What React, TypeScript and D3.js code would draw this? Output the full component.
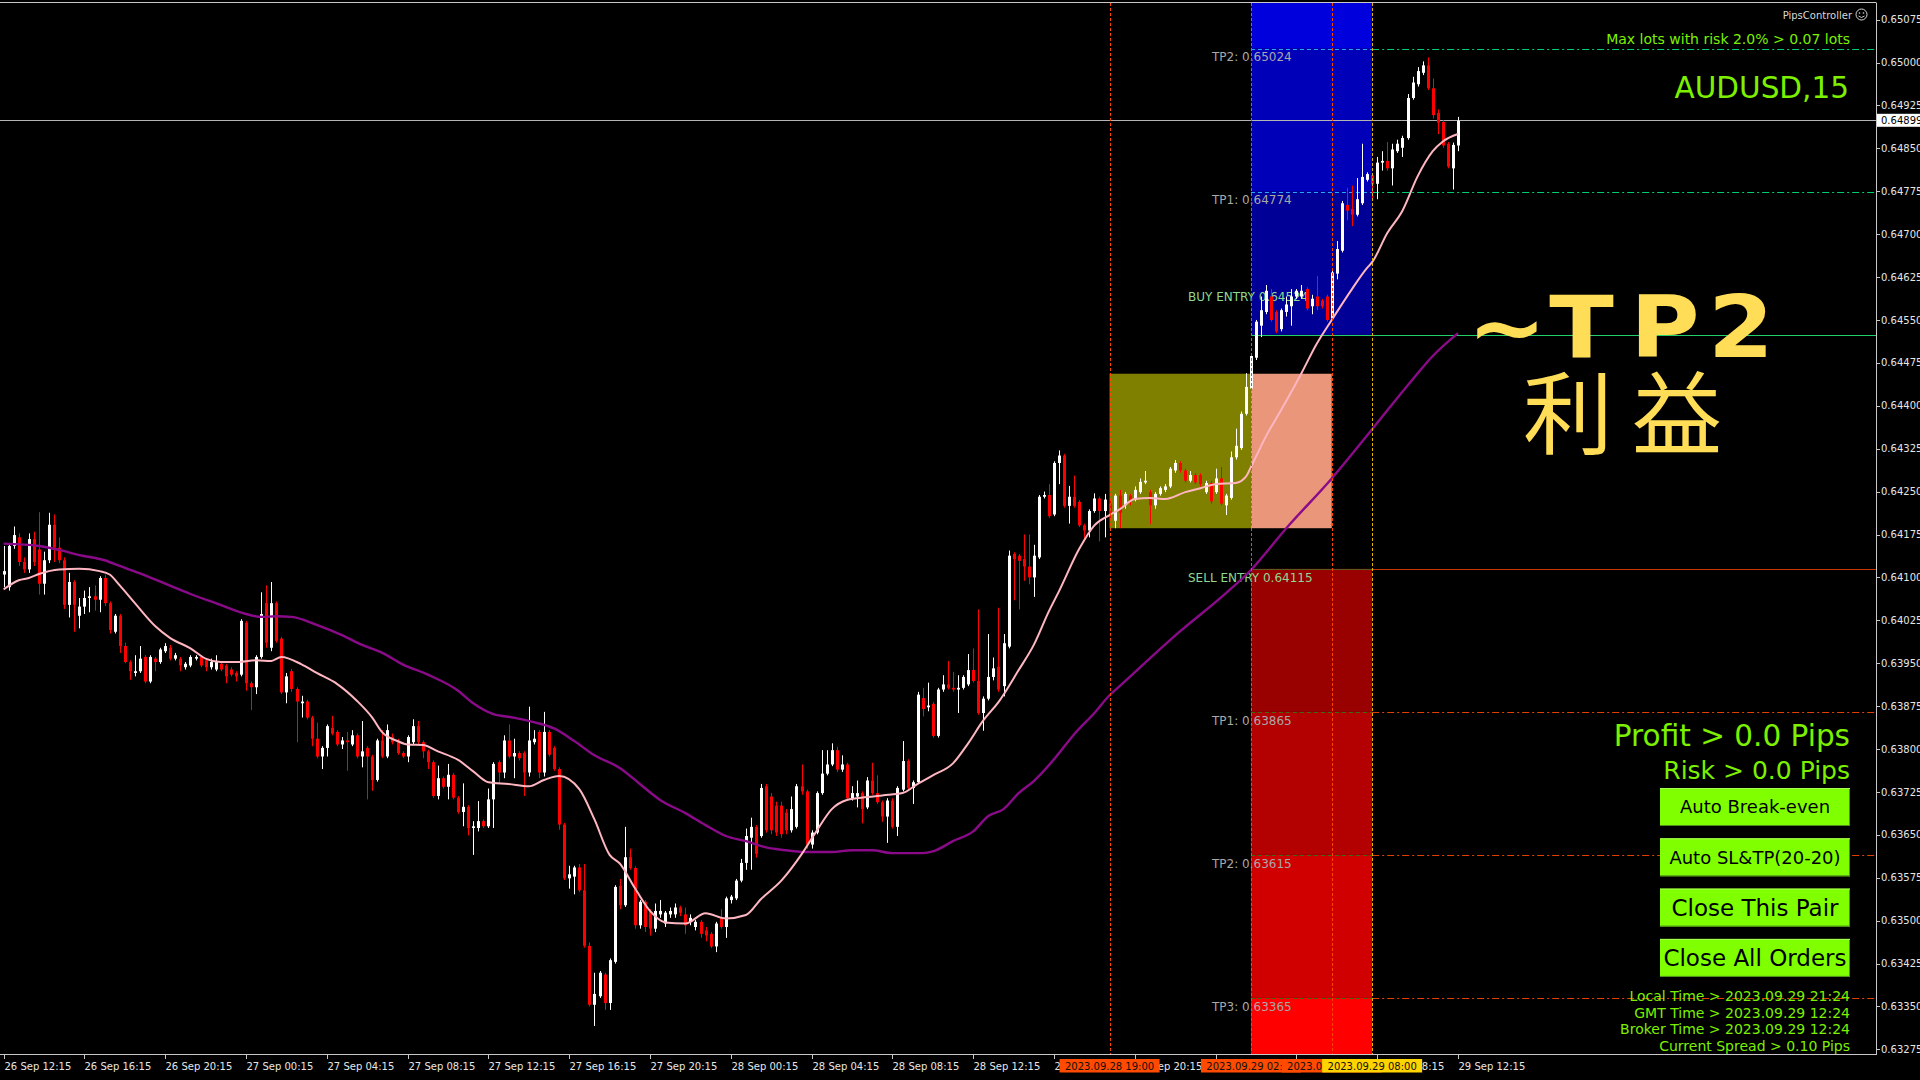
import React from "react";
import * as d3 from "d3";

// ---------- DATA ----------
// 15-minute AUDUSD candles, 26 Sep 12:15 -> 29 Sep 12:15, [open, high, low, close]
const candles: number[][] = [
[0.64105,0.64155,0.64083,0.64111],[0.64083,0.64160,0.64077,0.64155],[0.64155,0.64189,0.64150,0.64174],[0.64170,0.64177,0.64120,0.64127],
[0.64127,0.64135,0.64108,0.64114],[0.64114,0.64177,0.64108,0.64167],[0.64167,0.64180,0.64120,0.64127],[0.64149,0.64214,0.64070,0.64089],
[0.64089,0.64145,0.64070,0.64130],[0.64130,0.64213,0.64125,0.64192],[0.64192,0.64210,0.64127,0.64152],[0.64152,0.64170,0.64125,0.64130],
[0.64130,0.64135,0.64045,0.64052],[0.64052,0.64108,0.64030,0.64092],[0.64092,0.64095,0.64005,0.64052],[0.64033,0.64064,0.64011,0.64049],
[0.64049,0.64077,0.64036,0.64064],[0.64064,0.64083,0.64039,0.64067],[0.64067,0.64086,0.64042,0.64061],[0.64061,0.64102,0.64039,0.64099],
[0.64099,0.64105,0.64050,0.64055],[0.64055,0.64058,0.64002,0.64008],[0.64005,0.64036,0.64002,0.64033],[0.64033,0.64036,0.63968,0.63980],
[0.63980,0.63986,0.63950,0.63952],[0.63952,0.63955,0.63921,0.63936],[0.63933,0.63964,0.63927,0.63936],[0.63936,0.63980,0.63933,0.63958],
[0.63961,0.63964,0.63915,0.63918],[0.63918,0.63964,0.63915,0.63961],[0.63958,0.63961,0.63936,0.63952],[0.63952,0.63977,0.63949,0.63974],
[0.63971,0.63985,0.63968,0.63980],[0.63977,0.63982,0.63955,0.63958],[0.63958,0.63968,0.63955,0.63964],[0.63958,0.63961,0.63936,0.63946],
[0.63943,0.63952,0.63939,0.63949],[0.63946,0.63964,0.63943,0.63961],[0.63958,0.63964,0.63955,0.63961],[0.63961,0.63964,0.63943,0.63946],
[0.63955,0.63958,0.63936,0.63943],[0.63943,0.63958,0.63939,0.63952],[0.63939,0.63964,0.63936,0.63952],[0.63949,0.63952,0.63936,0.63939],
[0.63946,0.63949,0.63915,0.63927],[0.63939,0.63943,0.63927,0.63930],[0.63933,0.63936,0.63918,0.63927],[0.63930,0.64027,0.63927,0.64024],
[0.64021,0.64024,0.63902,0.63915],[0.63915,0.63918,0.63868,0.63908],[0.63908,0.63964,0.63896,0.63961],[0.63961,0.64074,0.63958,0.64036],
[0.64055,0.64086,0.63977,0.63986],[0.63977,0.64092,0.63971,0.64055],[0.64055,0.64058,0.63986,0.63989],[0.63993,0.63996,0.63896,0.63899],
[0.63899,0.63933,0.63880,0.63927],[0.63936,0.63940,0.63900,0.63905],[0.63905,0.63908,0.63812,0.63883],[0.63880,0.63893,0.63855,0.63883],
[0.63883,0.63886,0.63852,0.63855],[0.63855,0.63858,0.63805,0.63818],[0.63818,0.63846,0.63784,0.63787],[0.63787,0.63805,0.63765,0.63802],
[0.63802,0.63843,0.63787,0.63840],[0.63837,0.63858,0.63824,0.63827],[0.63830,0.63833,0.63805,0.63808],[0.63808,0.63821,0.63800,0.63815],
[0.63815,0.63830,0.63762,0.63812],[0.63808,0.63833,0.63805,0.63824],[0.63824,0.63827,0.63784,0.63787],[0.63787,0.63849,0.63768,0.63796],
[0.63802,0.63805,0.63712,0.63787],[0.63787,0.63790,0.63727,0.63746],[0.63746,0.63818,0.63743,0.63815],[0.63815,0.63833,0.63784,0.63787],
[0.63787,0.63843,0.63784,0.63833],[0.63821,0.63827,0.63808,0.63812],[0.63815,0.63818,0.63790,0.63793],[0.63793,0.63796,0.63784,0.63787],
[0.63787,0.63824,0.63777,0.63821],[0.63812,0.63852,0.63808,0.63840],[0.63840,0.63849,0.63808,0.63812],[0.63812,0.63815,0.63784,0.63796],
[0.63796,0.63799,0.63765,0.63777],[0.63777,0.63780,0.63715,0.63718],[0.63718,0.63771,0.63712,0.63749],[0.63749,0.63752,0.63731,0.63734],
[0.63734,0.63774,0.63712,0.63755],[0.63755,0.63758,0.63712,0.63715],[0.63715,0.63718,0.63687,0.63690],[0.63690,0.63740,0.63665,0.63699],
[0.63699,0.63702,0.63649,0.63662],[0.63662,0.63674,0.63615,0.63665],[0.63662,0.63709,0.63656,0.63674],[0.63674,0.63677,0.63662,0.63665],
[0.63665,0.63731,0.63662,0.63712],[0.63712,0.63777,0.63662,0.63774],[0.63777,0.63780,0.63740,0.63759],[0.63759,0.63824,0.63749,0.63815],
[0.63815,0.63843,0.63784,0.63787],[0.63787,0.63818,0.63749,0.63793],[0.63793,0.63796,0.63780,0.63784],[0.63793,0.63796,0.63718,0.63759],
[0.63759,0.63874,0.63752,0.63815],[0.63812,0.63833,0.63808,0.63818],[0.63830,0.63833,0.63749,0.63759],[0.63759,0.63865,0.63752,0.63830],
[0.63830,0.63833,0.63787,0.63790],[0.63802,0.63805,0.63762,0.63765],[0.63765,0.63768,0.63659,0.63668],[0.63668,0.63671,0.63571,0.63574],
[0.63574,0.63596,0.63556,0.63581],[0.63577,0.63596,0.63546,0.63593],[0.63593,0.63599,0.63550,0.63553],[0.63553,0.63599,0.63453,0.63456],
[0.63456,0.63462,0.63350,0.63353],[0.63353,0.63409,0.63316,0.63372],[0.63368,0.63412,0.63365,0.63409],[0.63406,0.63409,0.63344,0.63356],
[0.63356,0.63434,0.63344,0.63431],[0.63428,0.63562,0.63425,0.63559],
[0.63561,0.63573,0.63520,0.63527],[0.63527,0.63664,0.63524,0.63611],[0.63611,0.63626,0.63589,0.63592],[0.63592,0.63595,0.63486,0.63492],
[0.63492,0.63536,0.63486,0.63533],[0.63533,0.63536,0.63480,0.63489],[0.63517,0.63520,0.63474,0.63486],[0.63486,0.63530,0.63480,0.63517],
[0.63511,0.63536,0.63505,0.63517],[0.63495,0.63517,0.63489,0.63514],[0.63511,0.63523,0.63505,0.63517],[0.63511,0.63530,0.63505,0.63523],
[0.63523,0.63526,0.63508,0.63514],[0.63511,0.63523,0.63477,0.63492],[0.63498,0.63511,0.63492,0.63505],[0.63489,0.63501,0.63483,0.63498],
[0.63498,0.63501,0.63470,0.63477],[0.63483,0.63489,0.63464,0.63474],[0.63477,0.63480,0.63452,0.63455],[0.63455,0.63498,0.63445,0.63495],
[0.63505,0.63520,0.63486,0.63489],[0.63489,0.63542,0.63470,0.63539],[0.63536,0.63545,0.63530,0.63542],[0.63539,0.63573,0.63536,0.63570],
[0.63570,0.63608,0.63567,0.63601],[0.63601,0.63661,0.63589,0.63648],[0.63645,0.63680,0.63589,0.63664],[0.63664,0.63667,0.63610,0.63617],
[0.63648,0.63739,0.63645,0.63732],[0.63735,0.63739,0.63654,0.63658],[0.63717,0.63723,0.63651,0.63658],[0.63701,0.63708,0.63648,0.63654],
[0.63701,0.63708,0.63645,0.63651],[0.63689,0.63695,0.63651,0.63658],[0.63658,0.63717,0.63654,0.63695],[0.63664,0.63739,0.63661,0.63735],
[0.63735,0.63773,0.63720,0.63726],[0.63726,0.63729,0.63626,0.63633],[0.63633,0.63658,0.63626,0.63654],[0.63654,0.63726,0.63651,0.63723],
[0.63723,0.63798,0.63720,0.63757],[0.63757,0.63798,0.63754,0.63773],[0.63773,0.63810,0.63770,0.63798],[0.63798,0.63804,0.63760,0.63764],
[0.63764,0.63789,0.63760,0.63773],[0.63773,0.63776,0.63710,0.63714],[0.63714,0.63735,0.63710,0.63723],[0.63717,0.63745,0.63698,0.63723],
[0.63723,0.63726,0.63670,0.63695],[0.63698,0.63751,0.63695,0.63745],[0.63745,0.63776,0.63720,0.63723],[0.63723,0.63754,0.63704,0.63707],
[0.63707,0.63710,0.63673,0.63682],[0.63682,0.63714,0.63636,0.63710],[0.63710,0.63714,0.63661,0.63664],[0.63664,0.63735,0.63648,0.63732],
[0.63729,0.63814,0.63726,0.63779],[0.63779,0.63782,0.63729,0.63732],[0.63732,0.63745,0.63704,0.63742],[0.63742,0.63900,0.63739,0.63895],
[0.63889,0.63907,0.63857,0.63870],[0.63873,0.63916,0.63866,0.63876],[0.63879,0.63882,0.63820,0.63823],[0.63823,0.63907,0.63820,0.63904],
[0.63904,0.63929,0.63900,0.63913],[0.63913,0.63954,0.63904,0.63907],[0.63907,0.63935,0.63900,0.63904],[0.63904,0.63929,0.63863,0.63907],
[0.63907,0.63929,0.63904,0.63926],[0.63913,0.63966,0.63910,0.63938],[0.63938,0.63976,0.63916,0.63919],[0.63919,0.64044,0.63860,0.63863],
[0.63863,0.63892,0.63832,0.63888],[0.63888,0.64001,0.63885,0.63926],[0.63926,0.63960,0.63920,0.63941],[0.63944,0.64047,0.63900,0.63904],
[0.63910,0.64001,0.63892,0.63985],[0.63979,0.64147,0.63976,0.64138],[0.64141,0.64144,0.64060,0.64132],[0.64138,0.64141,0.64044,0.64129],
[0.64132,0.64175,0.64094,0.64119],[0.64119,0.64175,0.64088,0.64100],[0.64100,0.64157,0.64066,0.64138],[0.64135,0.64244,0.64132,0.64241],
[0.64241,0.64250,0.64238,0.64244],[0.64244,0.64263,0.64204,0.64207],[0.64210,0.64303,0.64207,0.64300],[0.64300,0.64322,0.64263,0.64313],
[0.64313,0.64316,0.64222,0.64225],[0.64225,0.64260,0.64194,0.64241],[0.64241,0.64278,0.64222,0.64225],[0.64232,0.64235,0.64188,0.64191],
[0.64191,0.64194,0.64163,0.64182],[0.64182,0.64219,0.64170,0.64216],[0.64216,0.64247,0.64213,0.64238],[0.64238,0.64241,0.64163,0.64216],
[0.64216,0.64246,0.64170,0.64236],
[0.64229,0.64236,0.64199,0.64209],[0.64199,0.64246,0.64186,0.64243],[0.64243,0.64253,0.64186,0.64213],[0.64226,0.64249,0.64220,0.64246],
[0.64243,0.64246,0.64226,0.64233],[0.64236,0.64259,0.64233,0.64253],[0.64249,0.64273,0.64246,0.64267],[0.64266,0.64286,0.64263,0.64269],
[0.64249,0.64253,0.64193,0.64226],[0.64226,0.64249,0.64220,0.64246],[0.64246,0.64259,0.64243,0.64256],[0.64253,0.64263,0.64249,0.64259],
[0.64259,0.64293,0.64256,0.64290],[0.64287,0.64305,0.64283,0.64300],[0.64300,0.64303,0.64283,0.64287],[0.64287,0.64290,0.64266,0.64269],
[0.64269,0.64286,0.64266,0.64279],[0.64279,0.64282,0.64263,0.64266],[0.64279,0.64282,0.64259,0.64263],[0.64249,0.64269,0.64246,0.64265],
[0.64265,0.64269,0.64229,0.64233],[0.64249,0.64290,0.64246,0.64273],[0.64273,0.64293,0.64226,0.64229],[0.64226,0.64246,0.64209,0.64243],
[0.64239,0.64320,0.64236,0.64310],[0.64310,0.64360,0.64306,0.64330],[0.64326,0.64390,0.64323,0.64386],[0.64386,0.64457,0.64383,0.64433],
[0.64430,0.64490,0.64427,0.64487],[0.64484,0.64550,0.64480,0.64547],[0.64540,0.64591,0.64520,0.64567],[0.64564,0.64611,0.64560,0.64601],
[0.64591,0.64604,0.64547,0.64550],[0.64564,0.64567,0.64527,0.64530],[0.64534,0.64570,0.64530,0.64567],[0.64564,0.64591,0.64556,0.64577],
[0.64574,0.64604,0.64540,0.64591],[0.64591,0.64604,0.64587,0.64601],[0.64591,0.64611,0.64587,0.64601],[0.64604,0.64607,0.64567,0.64570],
[0.64574,0.64594,0.64560,0.64587],[0.64591,0.64627,0.64567,0.64574],[0.64584,0.64587,0.64570,0.64574],[0.64591,0.64594,0.64547,0.64550],
[0.64553,0.64640,0.64550,0.64633],[0.64631,0.64688,0.64621,0.64674],[0.64671,0.64758,0.64668,0.64754],[0.64751,0.64781,0.64724,0.64741],
[0.64744,0.64785,0.64714,0.64734],[0.64734,0.64798,0.64731,0.64761],[0.64754,0.64858,0.64751,0.64800],[0.64795,0.64808,0.64792,0.64805],
[0.64803,0.64806,0.64761,0.64787],[0.64788,0.64835,0.64761,0.64825],[0.64825,0.64845,0.64811,0.64828],[0.64828,0.64861,0.64811,0.64815],
[0.64815,0.64858,0.64785,0.64848],[0.64845,0.64865,0.64842,0.64858],[0.64851,0.64872,0.64835,0.64868],[0.64868,0.64945,0.64865,0.64938],
[0.64938,0.64975,0.64935,0.64965],[0.64962,0.64992,0.64958,0.64985],[0.64982,0.65002,0.64978,0.64995],[0.64995,0.65009,0.64952,0.64955],
[0.64955,0.64972,0.64902,0.64908],[0.64912,0.64918,0.64875,0.64895],[0.64896,0.64899,0.64851,0.64855],[0.64858,0.64861,0.64815,0.64818],
[0.64815,0.64860,0.64778,0.64856],[0.64855,0.64905,0.64845,0.64898],
];

// moving averages: [bar index, price]
const fastMA: number[][] = [
[0,0.64079],[3,0.64095],[5,0.64099],[7,0.64106],[11,0.64114],[15,0.64115],[19,0.64111],[21,0.64105],[23,0.64086],[26,0.64055],
[30,0.64015],[33,0.63994],[37,0.63976],[40,0.63958],[43,0.63952],[46,0.63952],[50,0.63955],[53,0.63954],[55,0.63961],[59,0.63948],
[62,0.63933],[66,0.63914],[70,0.63884],[73,0.63855],[75,0.63829],[78,0.63814],[80,0.63808],[83,0.63807],[86,0.63796],[90,0.63781],
[93,0.63761],[96,0.63742],[100,0.63739],[104,0.63735],[107,0.63746],[110,0.63753],[114,0.63730],[117,0.63677],[120,0.63615],[122,0.63600],
[125,0.63557],[128,0.63517],[131,0.63497],[135,0.63495],[139,0.63513],[143,0.63504],[147,0.63510],[150,0.63538],[154,0.63570],[158,0.63616],
[161,0.63657],[164,0.63695],[167,0.63711],[171,0.63716],[174,0.63719],[178,0.63723],[181,0.63739],[184,0.63754],[188,0.63775],[191,0.63810],
[194,0.63850],[197,0.63882],[201,0.63938],[204,0.63982],[207,0.64041],[209,0.64076],[213,0.64150],[216,0.64191],[219,0.64209],[221,0.64219],
[224,0.64237],[227,0.64239],[230,0.64237],[234,0.64249],[237,0.64256],[240,0.64263],[244,0.64265],[246,0.64276],[247,0.64293],[250,0.64347],
[253,0.64393],[257,0.64457],[260,0.64508],[263,0.64550],[267,0.64604],[270,0.64641],[271,0.64651],[274,0.64702],[277,0.64741],[280,0.64801],
[283,0.64845],[285,0.64862],[288,0.64875],
];
const slowMA: number[][] = [
[0,0.64159],[7,0.64155],[11,0.64148],[15,0.64139],[20,0.64130],[23,0.64120],[27,0.64107],[32,0.64089],[37,0.64071],[42,0.64055],
[48,0.64036],[51,0.64031],[54,0.64032],[57,0.64031],[62,0.64017],[67,0.63999],[71,0.63982],[75,0.63968],[79,0.63948],[84,0.63930],
[90,0.63902],[93,0.63880],[97,0.63861],[101,0.63855],[105,0.63847],[109,0.63836],[113,0.63814],[117,0.63789],[122,0.63767],[126,0.63739],
[130,0.63711],[135,0.63688],[139,0.63667],[143,0.63648],[147,0.63639],[151,0.63628],[155,0.63623],[159,0.63620],[164,0.63620],[168,0.63623],
[172,0.63623],[176,0.63618],[182,0.63618],[184,0.63621],[188,0.63639],[192,0.63656],[195,0.63683],[198,0.63695],[201,0.63723],[204,0.63744],
[208,0.63782],[212,0.63826],[216,0.63863],[219,0.63894],[221,0.63910],[233,0.64006],[242,0.64072],[247,0.64113],[254,0.64186],[263,0.64273],
[271,0.64359],[279,0.64446],[283,0.64487],[288,0.64527],
];

const timeTickBars = [0,16,32,48,64,80,96,112,128,144,160,176,192,208,224,240,256,272,288];
const timeTickLabels = ["26 Sep 12:15","26 Sep 16:15","26 Sep 20:15","27 Sep 00:15","27 Sep 04:15","27 Sep 08:15","27 Sep 12:15","27 Sep 16:15","27 Sep 20:15","28 Sep 00:15","28 Sep 04:15","28 Sep 08:15","28 Sep 12:15","28 Sep 16:15","28 Sep 20:15","29 Sep 00:15","29 Sep 04:15","29 Sep 08:15","29 Sep 12:15"];
const priceTicks = [0.63275,0.6335,0.63425,0.635,0.63575,0.6365,0.63725,0.638,0.63875,0.6395,0.64025,0.641,0.64175,0.6425,0.64325,0.644,0.64475,0.6455,0.64625,0.647,0.64775,0.6485,0.64925,0.65,0.65075];

const bidPrice = 0.64899;
const buyLevels = { entry: 0.64524, tp1: 0.64774, tp2: 0.65024 };
const sellLevels = { entry: 0.64115, tp1: 0.63865, tp2: 0.63615, tp3: 0.63365 };
const rangeHigh = 0.64456, rangeLow = 0.64186;
const markerBars = [219, 247, 263, 271];
const markerLabels = ["2023.09.28 19:00", "2023.09.29 02:00", "2023.09.29 06:00", "2023.09.29 08:00"];
const infoLines = ["Local Time > 2023.09.29 21:24", "GMT Time > 2023.09.29 12:24", "Broker Time > 2023.09.29 12:24", "Current Spread >  0.10 Pips"];
const buttonLabels = ["Auto Break-even", "Auto SL&TP(20-20)", "Close This Pair", "Close All Orders"];

// ---------- LAYOUT ----------
const W = 1920, H = 1080;
const PR = 1876, PT = 3, PB = 1055;
const FONT = "'DejaVu Sans', Verdana, sans-serif";
const GREEN = "#7CF000";
const YEL = "#FFDD57";

export default function App() {
  const x = d3.scaleLinear().domain([0, 288]).range([3.6, 1458]);
  const y = d3.scaleLinear().domain([0.63275, 0.65075]).range([1049.4, 19.6]);
  const bx0 = x(markerBars[1]), bx1 = x(markerBars[3]);
  const line = d3.line<number[]>().x(d => x(d[0])).y(d => y(d[1])).curve(d3.curveMonotoneX);
  const fmt = (p: number) => p.toFixed(5);

  const blueBands = [
    { top: PT, bot: y(buyLevels.tp2), fill: "#0000DC" },
    { top: y(buyLevels.tp2), bot: y(buyLevels.tp1), fill: "#0000B8" },
    { top: y(buyLevels.tp1), bot: y(buyLevels.entry), fill: "#000096" },
  ];
  const redBands = [
    { top: y(sellLevels.entry), bot: y(sellLevels.tp1), fill: "#990000" },
    { top: y(sellLevels.tp1), bot: y(sellLevels.tp2), fill: "#B30000" },
    { top: y(sellLevels.tp2), bot: y(sellLevels.tp3), fill: "#D00000" },
    { top: y(sellLevels.tp3), bot: PB, fill: "#FF0000" },
  ];

  return (
    <div style={{ position: "fixed", left: 0, top: 0, width: W, height: H, background: "#000" }}>
      <svg width={W} height={H} viewBox={`0 0 ${W} ${H}`} style={{ display: "block" }}>
        <defs>
          <clipPath id="plot"><rect x={0} y={PT} width={PR} height={PB - PT} /></clipPath>
        </defs>
        <rect x={0} y={0} width={W} height={H} fill="#000" />
        <g clipPath="url(#plot)">
          {/* zones */}
          <rect x={x(markerBars[0])} y={y(rangeHigh)} width={x(markerBars[1]) - x(markerBars[0])} height={y(rangeLow) - y(rangeHigh)} fill="#808000" />
          <rect x={x(markerBars[1])} y={y(rangeHigh)} width={x(markerBars[2]) - x(markerBars[1])} height={y(rangeLow) - y(rangeHigh)} fill="#E9967A" />
          {blueBands.map((b, i) => <rect key={"b" + i} x={bx0} y={b.top} width={bx1 - bx0} height={b.bot - b.top} fill={b.fill} />)}
          {redBands.map((b, i) => <rect key={"r" + i} x={bx0} y={b.top} width={bx1 - bx0} height={b.bot - b.top} fill={b.fill} />)}

          {/* bid line */}
          <line x1={0} x2={PR} y1={Math.round(y(bidPrice)) + 0.5} y2={Math.round(y(bidPrice)) + 0.5} stroke="#B4B4B4" strokeWidth={1} />

          {/* buy levels */}
          {[buyLevels.tp2, buyLevels.tp1].map((p, i) => {
            const yy = Math.round(y(p)) + 0.5;
            return <g key={"bl" + i}>
              <line x1={bx0} x2={bx1} y1={yy} y2={yy} stroke="#2AA8FF" strokeDasharray="4,3" />
              <line x1={bx1} x2={PR} y1={yy} y2={yy} stroke="#00CC70" strokeDasharray="7,3,2,3" />
            </g>;
          })}
          <line x1={bx0} x2={PR} y1={Math.round(y(buyLevels.entry)) + 0.5} y2={Math.round(y(buyLevels.entry)) + 0.5} stroke="#22D06A" />
          {/* sell levels */}
          <line x1={bx0} x2={bx1} y1={Math.round(y(sellLevels.entry)) + 0.5} y2={Math.round(y(sellLevels.entry)) + 0.5} stroke="#5A5A1E" />
          <line x1={bx1} x2={PR} y1={Math.round(y(sellLevels.entry)) + 0.5} y2={Math.round(y(sellLevels.entry)) + 0.5} stroke="#CC3300" />
          {[sellLevels.tp1, sellLevels.tp2, sellLevels.tp3].map((p, i) => {
            const yy = Math.round(y(p)) + 0.5;
            return <g key={"sl" + i}>
              <line x1={bx0} x2={bx1} y1={yy} y2={yy} stroke="#3F6A10" strokeDasharray="4,3" />
              <line x1={bx1} x2={PR} y1={yy} y2={yy} stroke="#E04000" strokeDasharray="7,3,2,3" />
            </g>;
          })}

          {/* level labels */}
          <g fontFamily={FONT} fontSize={12}>
            <text x={1212} y={y(buyLevels.tp2) + 12} fill="#A8A8A8">{"TP2: " + fmt(buyLevels.tp2)}</text>
            <text x={1212} y={y(buyLevels.tp1) + 12} fill="#A8A8A8">{"TP1: " + fmt(buyLevels.tp1)}</text>
            <text x={1188} y={y(buyLevels.entry) - 34} fill="#8FD88F">{"BUY ENTRY " + fmt(buyLevels.entry)}</text>
            <text x={1188} y={y(sellLevels.entry) + 13} fill="#8FD88F">{"SELL ENTRY " + fmt(sellLevels.entry)}</text>
            <text x={1212} y={y(sellLevels.tp1) + 13} fill="#A8A8A8">{"TP1: " + fmt(sellLevels.tp1)}</text>
            <text x={1212} y={y(sellLevels.tp2) + 13} fill="#A8A8A8">{"TP2: " + fmt(sellLevels.tp2)}</text>
            <text x={1212} y={y(sellLevels.tp3) + 13} fill="#A8A8A8">{"TP3: " + fmt(sellLevels.tp3)}</text>
          </g>

          {/* candles */}
          {candles.map(([o, h, l, c], i) => {
            const cx = Math.round(x(i)) + 0.5;
            const bull = c >= o;
            const col = bull ? "#FFFFFF" : "#FF0000";
            const yt = y(Math.max(o, c)), yb = y(Math.min(o, c));
            return <g key={"c" + i}>
              <line x1={cx} x2={cx} y1={y(h)} y2={y(l)} stroke={col} strokeWidth={1} />
              <rect x={cx - 1.5} y={yt} width={3} height={Math.max(1, yb - yt)} fill={col} />
            </g>;
          })}

          {/* moving averages */}
          <path d={line(slowMA) || ""} fill="none" stroke="#8A0A8A" strokeWidth={2.4} />
          <path d={line(fastMA) || ""} fill="none" stroke="#FFB6C1" strokeWidth={2} />

          {/* vertical time markers */}
          {markerBars.map((b, i) => (
            <line key={"v" + i} x1={Math.round(x(b)) + 0.5} x2={Math.round(x(b)) + 0.5} y1={PT} y2={PB}
              stroke={i === 3 ? "#E8B800" : "#FF4500"} strokeDasharray="3,2" />
          ))}
        </g>

        {/* frame */}
        <line x1={0} x2={PR} y1={2.5} y2={2.5} stroke="#C8C8C8" />
        <line x1={PR + 0.5} x2={PR + 0.5} y1={2.5} y2={PB} stroke="#C8C8C8" />
        <line x1={0} x2={PR + 0.5} y1={PB - 0.5} y2={PB - 0.5} stroke="#C8C8C8" />

        {/* price axis */}
        <g fontFamily={FONT} fontSize={10} fill="#E6E6E6">
          {priceTicks.map((p, i) => (
            <g key={"pt" + i}>
              <line x1={PR} x2={PR + 4} y1={Math.round(y(p)) + 0.5} y2={Math.round(y(p)) + 0.5} stroke="#C8C8C8" />
              <text x={1881} y={y(p) + 3.6}>{fmt(p)}</text>
            </g>
          ))}
          <rect x={PR + 1} y={y(bidPrice) - 6.5} width={W - PR - 1} height={13} fill="#FFFFFF" />
          <text x={1881} y={y(bidPrice) + 3.6} fill="#000">{fmt(bidPrice)}</text>
        </g>

        {/* time axis */}
        <g fontFamily={FONT} fontSize={10} fill="#E6E6E6">
          {timeTickBars.map((b, i) => (
            <g key={"tt" + i}>
              <line x1={Math.round(x(b)) + 0.5} x2={Math.round(x(b)) + 0.5} y1={PB - 1} y2={PB + 4} stroke="#C8C8C8" />
              <text x={Math.round(x(b)) + 0.5} y={1070}>{timeTickLabels[i]}</text>
            </g>
          ))}
          {markerBars.map((b, i) => (
            <g key={"ml" + i}>
              <rect x={x(b) - 50} y={1059} width={100} height={13.5} fill={i === 3 ? "#FFD400" : "#FF4A00"} />
              <text x={x(b)} y={1069.7} textAnchor="middle" fill="#111">{markerLabels[i]}</text>
            </g>
          ))}
        </g>

        {/* info panel top right */}
        <g fontFamily={FONT}>
          <text x={1852} y={19} textAnchor="end" fontSize={10} fill="#D8D8D8">PipsController</text>
          <circle cx={1861.5} cy={14.5} r={5.5} fill="none" stroke="#D8D8D8" strokeWidth={1} />
          <circle cx={1859.5} cy={13} r={0.8} fill="#D8D8D8" />
          <circle cx={1863.5} cy={13} r={0.8} fill="#D8D8D8" />
          <path d="M1858.5,16 Q1861.5,19 1864.5,16" fill="none" stroke="#D8D8D8" strokeWidth={0.9} />
          <text x={1850} y={44} textAnchor="end" fontSize={14} fill={GREEN}>Max lots with risk 2.0% &gt; 0.07 lots</text>
          <text x={1849} y={98} textAnchor="end" fontSize={29.5} fill={GREEN}>AUDUSD,15</text>
        </g>

        {/* bottom right panel */}
        <g fontFamily={FONT}>
          <text x={1850} y={746} textAnchor="end" fontSize={29.5} fill={GREEN}>Profit &gt; 0.0 Pips</text>
          <text x={1850} y={779} textAnchor="end" fontSize={25} fill={GREEN}>Risk &gt; 0.0 Pips</text>
          {buttonLabels.map((t, i) => {
            const top = 788 + i * 50.3;
            const fs = i < 2 ? 18 : 23;
            return <g key={"btn" + i}>
              <rect x={1660} y={top} width={190} height={38} fill="#7FFF00" />
              <line x1={1660} x2={1850} y1={top + 37.5} y2={top + 37.5} stroke="#4E8A1E" />
              <line x1={1849.5} x2={1849.5} y1={top} y2={top + 38} stroke="#4E8A1E" />
              <line x1={1660} x2={1850} y1={top + 0.5} y2={top + 0.5} stroke="#A8FF55" />
              <text x={1755} y={top + 19 + fs * 0.36} textAnchor="middle" fontSize={fs} fill="#000">{t}</text>
            </g>;
          })}
          {infoLines.map((t, i) => (
            <text key={"il" + i} x={1850} y={1001 + i * 16.7} textAnchor="end" fontSize={14} fill={GREEN}>{t}</text>
          ))}
        </g>

        {/* overlay caption */}
        <g fill={YEL}>
          {[["~", 1507], ["T", 1581.5], ["P", 1665], ["2", 1741]].map(([ch, cx], i) => (
            <text key={"cap" + i} transform={`translate(${cx},357) scale(1.1,1)`} textAnchor="middle"
              fontFamily="'DejaVu Sans', sans-serif" fontWeight={700} fontSize={86}>{ch as string}</text>
          ))}
          {[["利", 1568], ["益", 1677]].map(([ch, cx], i) => (
            <text key={"jp" + i} x={cx as number} y={408} textAnchor="middle" dominantBaseline="central"
              fontFamily="'Noto Sans CJK JP', 'Noto Sans CJK SC', sans-serif" fontWeight={400} fontSize={90}>{ch as string}</text>
          ))}
        </g>
      </svg>
    </div>
  );
}
